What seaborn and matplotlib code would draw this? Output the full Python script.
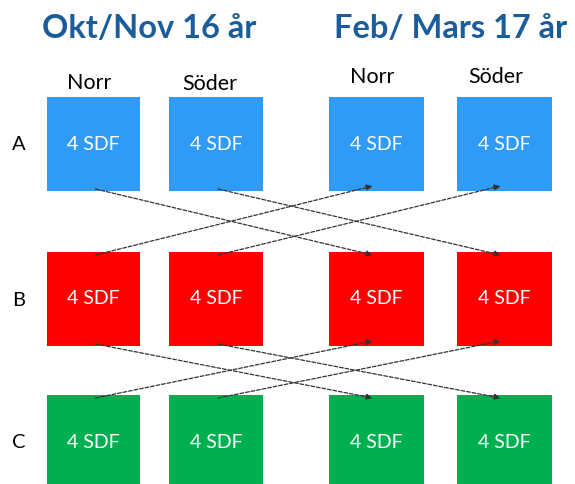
import matplotlib
matplotlib.use("Agg")
import matplotlib.pyplot as plt
import seaborn as sns
import pandas as pd

# Innehåll
periods = ["Okt/Nov 16 år", "Feb/ Mars 17 år"]
regions = ["Norr", "Söder"]
groups = ["A", "B", "C"]
box_text = "4 SDF"
group_colors = ["#2f9bf5", "#ff0000", "#00b050"]
# övergångar: (från grupp, till grupp) från period 1 till period 2, samma region
moves = [("A", "B"), ("B", "A"), ("B", "C"), ("C", "B")]

# Layout (pixlar, y nedåt)
col_left = [47, 169, 329, 457]
col_width = [93, 94, 95, 95]
row_top = [97, 252, 395]
row_height = [94, 94, 95]
title_x = [149, 451]
title_y = 28
label_dx = [-4, -6, -4, -9]
label_y = [83, 84, 77, 77]
row_label_x = 19

sns.set_theme(style="white")
plt.rcParams["font.family"] = ["Lato", "DejaVu Sans"]

boxes = pd.DataFrame([
    {"period": p, "region": r, "group": g, "col": pi * 2 + ri, "row": gi}
    for gi, g in enumerate(groups)
    for pi, p in enumerate(periods)
    for ri, r in enumerate(regions)
])
boxes["left"] = boxes["col"].map(lambda c: col_left[c])
boxes["width"] = boxes["col"].map(lambda c: col_width[c])
boxes["cx"] = boxes["left"] + boxes["width"] / 2
boxes["top"] = boxes["row"].map(lambda r: row_top[r])
boxes["height"] = boxes["row"].map(lambda r: row_height[r])
boxes["color"] = boxes["row"].map(lambda r: group_colors[r])

fig = plt.figure(figsize=(5.75, 4.84), dpi=100)
ax = fig.add_axes([0, 0, 1, 1])
ax.set_xlim(0, 575)
ax.set_ylim(484, 0)
ax.axis("off")

ax.bar(boxes["cx"], boxes["height"], width=boxes["width"], bottom=boxes["top"],
       color=boxes["color"], edgecolor="none", zorder=1)
for _, b in boxes.iterrows():
    ax.text(b["cx"], b["top"] + 47, box_text, color="white", fontsize=14,
            ha="center", va="center", zorder=2)

for i, p in enumerate(periods):
    ax.text(title_x[i], title_y, p, color="#1b5c9b", fontsize=23.5, fontweight="bold",
            ha="center", va="center")
for c in range(4):
    ax.text(col_left[c] + col_width[c] / 2 + label_dx[c], label_y[c], regions[c % 2],
            color="black", fontsize=15.5, ha="center", va="center")
for gi, g in enumerate(groups):
    ax.text(row_label_x, row_top[gi] + 48, g, color="black", fontsize=14.5,
            ha="center", va="center")

# pilar
for src, dst in moves:
    gs, gd = groups.index(src), groups.index(dst)
    for ri in range(2):
        s = boxes[(boxes.row == gs) & (boxes.col == ri)].iloc[0]
        d = boxes[(boxes.row == gd) & (boxes.col == 2 + ri)].iloc[0]
        if gd > gs:
            y0, y1 = s["top"] + s["height"] - 2, d["top"] + 3
        else:
            y0, y1 = s["top"] + 3, d["top"] + d["height"] - 5
        ax.annotate("", xy=(d["cx"] - 4, y1), xytext=(s["cx"] + 2, y0),
                    arrowprops=dict(arrowstyle="-|>", linestyle=(0, (3, 1.5)),
                                    color="#333333", lw=0.9, mutation_scale=9,
                                    shrinkA=0, shrinkB=0),
                    zorder=3)

fig.savefig("out.png", dpi=100, facecolor="white")
